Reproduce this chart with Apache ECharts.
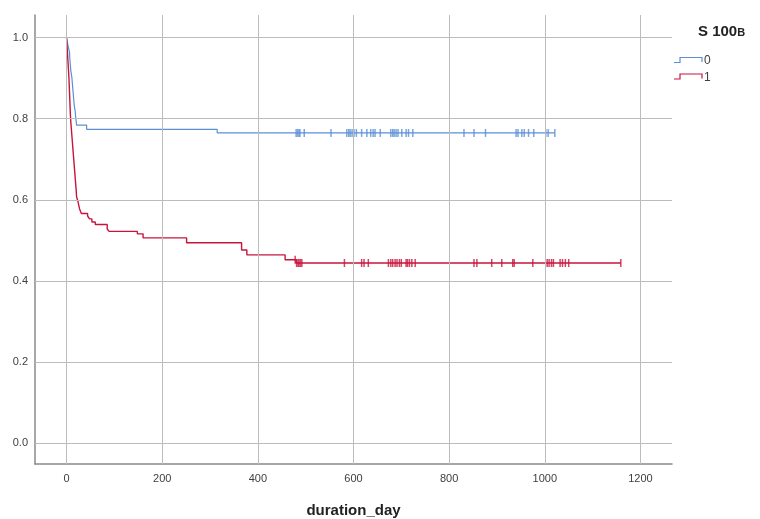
<!DOCTYPE html>
<html>
<head>
<meta charset="utf-8">
<script src="https://cdn.jsdelivr.net/npm/echarts@6/dist/echarts.min.js"></script>
<style>html,body{margin:0;padding:0;background:#fff}#c{width:760px;height:519px}</style>
</head>
<body>
<div id="c"></div>
<script>
// ---- Data ----
const xTicks = [0, 200, 400, 600, 800, 1000, 1200];
const yTicks = [0.0, 0.2, 0.4, 0.6, 0.8, 1.0];
const groupNames = ['0', '1'];

// Group 0 (blue): event times and survival after each event
const g0Times = [0, 2, 6, 7, 8, 9, 11, 12, 13, 14, 15, 16, 18, 19, 20, 21, 42, 315, 1021];
const g0Surv  = [1.0, 0.986, 0.965, 0.945, 0.931, 0.917, 0.903, 0.889, 0.875, 0.861, 0.847, 0.833, 0.819, 0.805, 0.795, 0.784, 0.774, 0.765, 0.765];
const g0Censor = [480, 483, 486, 488, 497, 553, 586, 590, 593, 597, 601, 606, 617, 628, 636, 641, 645, 656, 678, 682, 685, 689, 693, 701, 710, 715, 724, 831, 852, 876, 940, 944, 952, 957, 966, 977, 1002, 1007, 1021];

// Group 1 (red)
const g1Times = [0, 1, 2, 3, 4, 5, 6, 7, 8, 9, 10, 11, 12, 13, 14, 15, 16, 17, 18, 19, 20, 21, 24, 27, 31, 44, 48, 53, 60, 85, 89, 148, 160, 251, 366, 377, 457, 480, 1159];
const g1Surv  = [1.0, 0.98, 0.96, 0.94, 0.92, 0.90, 0.87, 0.84, 0.81, 0.79, 0.775, 0.76, 0.745, 0.73, 0.715, 0.70, 0.685, 0.67, 0.655, 0.64, 0.625, 0.607, 0.595, 0.578, 0.566, 0.560, 0.553, 0.545, 0.539, 0.528, 0.522, 0.516, 0.506, 0.494, 0.476, 0.464, 0.452, 0.444, 0.444];
const g1Censor = [478, 481, 484, 486, 489, 492, 581, 617, 622, 631, 673, 678, 682, 687, 691, 696, 700, 710, 713, 717, 722, 729, 852, 858, 889, 910, 933, 936, 975, 1005, 1009, 1014, 1018, 1032, 1037, 1043, 1050, 1159];

const colors = ['#5b8fd8', '#c8143c'];

function survAt(times, surv, t) {
  let s = surv[0];
  for (let i = 0; i < times.length; i++) { if (times[i] <= t) s = surv[i]; }
  return s;
}
const pairs = (a, b) => a.map((t, i) => [t, b[i]]);
const censorPts = (c, times, surv) => c.map(t => [t, survAt(times, surv, t)]);

const chart = echarts.init(document.getElementById('c'), null, {renderer: 'canvas'});
const labelFont = '"Liberation Sans Narrow", "Arial Narrow", "Liberation Sans", sans-serif';
const gridStyle = {color: '#bcbcbc', width: 1, type: 'solid'};

chart.setOption({
  animation: false,
  backgroundColor: '#ffffff',
  grid: {left: 35, right: 88, top: 15, bottom: 55, containLabel: false, outerBoundsMode: 'none'},
  xAxis: {
    type: 'value', min: -66, max: 1266,
    name: 'duration_day', nameLocation: 'middle', nameGap: 39,
    nameTextStyle: {fontFamily: '"Liberation Sans", Arial, sans-serif', fontWeight: 'bold', fontSize: 15, color: '#222'},
    axisLine: {show: true, onZero: false, lineStyle: {color: '#8a8a8a', width: 1.5}},
    axisTick: {show: false},
    splitLine: {show: false},
    axisLabel: {customValues: xTicks, color: '#404040', fontSize: 11, fontFamily: labelFont, margin: 9,
      formatter: v => String(Math.round(v))}
  },
  yAxis: {
    type: 'value', min: -0.052, max: 1.056,
    axisLine: {show: true, onZero: false, lineStyle: {color: '#8a8a8a', width: 1.5}},
    axisTick: {show: false},
    splitLine: {show: false},
    axisLabel: {customValues: yTicks, color: '#404040', fontSize: 11, fontFamily: labelFont, margin: 7,
      formatter: v => Number(v).toFixed(1)}
  },
  series: [
    {
      type: 'line', data: [], z: 1, silent: true,
      markLine: {
        silent: true, symbol: ['none', 'none'], label: {show: false},
        lineStyle: gridStyle, animation: false,
        data: xTicks.map(v => ({xAxis: v})).concat(yTicks.map(v => ({yAxis: v})))
      }
    },
    {
      name: groupNames[0], type: 'line', step: 'end', showSymbol: false, z: 3,
      data: pairs(g0Times, g0Surv),
      lineStyle: {color: colors[0], width: 1.2}, itemStyle: {color: colors[0]}
    },
    {
      name: groupNames[1], type: 'line', step: 'end', showSymbol: false, z: 3,
      data: pairs(g1Times, g1Surv),
      lineStyle: {color: colors[1], width: 1.4}, itemStyle: {color: colors[1]}
    },
    {
      type: 'scatter', z: 4, symbol: 'rect', symbolSize: [1.5, 8],
      data: censorPts(g0Censor, g0Times, g0Surv), itemStyle: {color: colors[0]}
    },
    {
      type: 'scatter', z: 4, symbol: 'rect', symbolSize: [1.5, 8],
      data: censorPts(g1Censor, g1Times, g1Surv), itemStyle: {color: colors[1]}
    }
  ],
  graphic: [
    {type: 'text', left: 698, top: 24, style: {
      text: '{a|S 100}{b|B}',
      rich: {
        a: {fontFamily: '"Liberation Sans", Arial, sans-serif', fontWeight: 'bold', fontSize: 15, fill: '#222'},
        b: {fontFamily: '"Liberation Sans", Arial, sans-serif', fontWeight: 'bold', fontSize: 11, fill: '#222', padding: [3, 0, 0, 0]}
      }}},
    {type: 'polyline', shape: {points: [[674, 62.5], [680, 62.5], [680, 57.5], [702, 57.5], [702, 62]]},
      style: {stroke: colors[0], lineWidth: 1.2, fill: null}},
    {type: 'text', x: 704, y: 61, style: {text: groupNames[0], fontSize: 12, fill: '#404040', verticalAlign: 'middle', fontFamily: '"Liberation Sans", Arial, sans-serif'}},
    {type: 'polyline', shape: {points: [[674, 79], [680, 79], [680, 74], [702, 74], [702, 78.5]]},
      style: {stroke: colors[1], lineWidth: 1.2, fill: null}},
    {type: 'text', x: 704, y: 78, style: {text: groupNames[1], fontSize: 12, fill: '#404040', verticalAlign: 'middle', fontFamily: '"Liberation Sans", Arial, sans-serif'}}
  ]
});
</script>
</body>
</html>
